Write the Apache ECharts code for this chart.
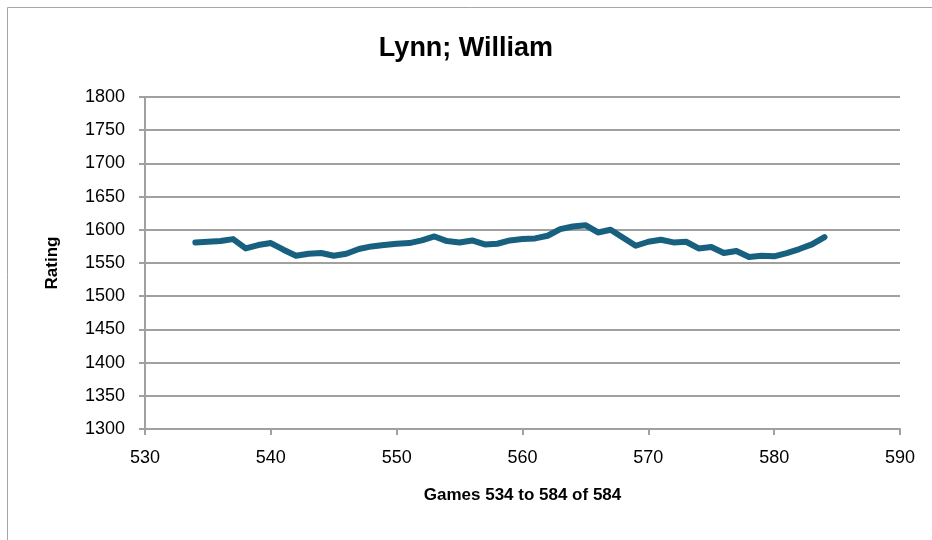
<!DOCTYPE html>
<html><head><meta charset="utf-8">
<script src="https://cdn.jsdelivr.net/npm/echarts@6/dist/echarts.min.js"></script>
<style>html,body{margin:0;padding:0;background:#fff}#c{width:932px;height:540px}</style>
</head><body><div id="c"></div>
<script>
const games = [534,535,536,537,538,539,540,541,542,543,544,545,546,547,548,549,550,551,552,553,554,555,556,557,558,559,560,561,562,563,564,565,566,567,568,569,570,571,572,573,574,575,576,577,578,579,580,581,582,583,584];
const ratings = [1581,1582,1583,1586,1572,1577,1580,1570,1561,1564,1565,1561,1564,1571,1575,1577,1579,1580,1584,1590,1583,1581,1584,1578,1579,1584,1586,1587,1591,1601,1605,1607,1596,1600,1588,1576,1582,1585,1581,1582,1572,1574,1565,1568,1559,1561,1560,1565,1571,1578,1589];
const title = "Lynn; William";
const xName = "Games 534 to 584 of 584";
const yName = "Rating";
const F = "'Liberation Sans Narrow','Liberation Sans',sans-serif";
const chart = echarts.init(document.getElementById('c'));
chart.setOption({
  animation:false,
  graphic:[{type:'rect',shape:{x:7.5,y:7.5,width:940,height:560},style:{fill:'none',stroke:'#a6a6a6',lineWidth:1}}],
  title:{text:title,left:'center',top:30,textStyle:{fontFamily:F,fontWeight:'bold',fontSize:27,color:'#000'}},
  grid:{left:145,right:32,top:97,bottom:111},
  xAxis:{type:'value',min:530,max:590,interval:10,
    name:xName,nameLocation:'middle',nameGap:58,
    nameTextStyle:{fontFamily:F,fontWeight:'bold',fontSize:17,color:'#000'},
    axisLine:{lineStyle:{color:'#a0a0a0',width:2}},
    axisTick:{show:true,length:6,lineStyle:{color:'#a0a0a0',width:2}},
    axisLabel:{fontFamily:F,fontSize:18,color:'#000',margin:20},
    splitLine:{show:false}},
  yAxis:{type:'value',min:1300,max:1800,interval:50,
    name:yName,nameLocation:'middle',nameGap:84,
    nameTextStyle:{fontFamily:F,fontWeight:'bold',fontSize:17,color:'#000'},
    axisLine:{show:true,lineStyle:{color:'#a0a0a0',width:2}},
    axisTick:{show:true,length:6,lineStyle:{color:'#a0a0a0',width:2}},
    axisLabel:{fontFamily:F,fontSize:18,color:'#000',margin:20,formatter:v=>String(v)},
    splitLine:{show:true,lineStyle:{color:'#a0a0a0',width:2}}},
  series:[{type:'line',data:games.map((g,i)=>[g,ratings[i]]),showSymbol:false,
    lineStyle:{color:'#17607f',width:6,cap:'round',join:'round'}}]
});
</script></body></html>
